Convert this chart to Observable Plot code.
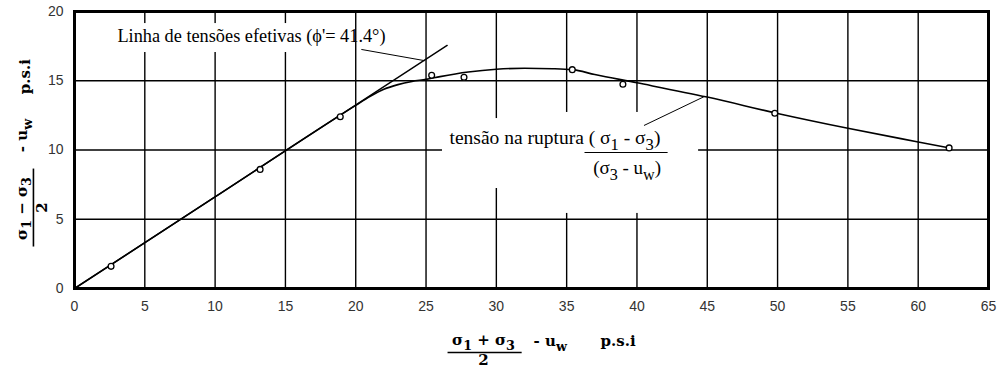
<!DOCTYPE html>
<html>
<head>
<meta charset="utf-8">
<script src="https://cdn.jsdelivr.net/npm/d3@7"></script>
<script src="https://cdn.jsdelivr.net/npm/@observablehq/plot@0.6"></script>
<style>
  html, body { margin: 0; padding: 0; background: #fff; }
</style>
</head>
<body>
<div id="chart"></div>
<script>
// Axis ticks (p.s.i)
const xTicks = [0, 5, 10, 15, 20, 25, 30, 35, 40, 45, 50, 55, 60, 65];
const yTicks = [0, 5, 10, 15, 20];

// Triaxial test results: p' = (σ1+σ3)/2 - uw, q = (σ1-σ3)/2
const testP = [2.6, 13.2, 18.9, 25.4, 27.7, 35.4, 39.0, 49.8, 62.2];
const testQ = [1.6, 8.6, 12.4, 15.4, 15.25, 15.8, 14.75, 12.65, 10.15];

// Effective stress envelope (φ' = 41.4°)
const envelopeP = [0, 26.5];
const envelopeQ = [0, 17.55];

// Stress path at failure
const ruptureP = [0, 10, 20, 21, 22, 23, 24, 25, 26, 28, 30, 32, 34, 35.4, 37, 40, 45, 50, 55, 60, 62.2];
const ruptureQ = [0, 6.61, 13.22, 13.85, 14.38, 14.72, 14.95, 15.1, 15.3, 15.63, 15.83, 15.9, 15.87, 15.8, 15.45, 14.85, 13.82, 12.64, 11.57, 10.58, 10.15];

const tests = testP.map((p, i) => ({p, q: testQ[i]}));
const envelope = envelopeP.map((p, i) => ({p, q: envelopeQ[i]}));
const rupture = ruptureP.map((p, i) => ({p, q: ruptureQ[i]}));

const serif = "'Liberation Serif', 'Times New Roman', serif";
const wideSerif = "'DejaVu Serif', serif";
const sans = "'Liberation Sans', Arial, sans-serif";

// Blank panels kept free of grid lines behind the annotations
const blanks = [
  {x1: 1.85, x2: 19.5, y1: 17.04, y2: 19.13},
  {x1: 26.17, x2: 44.38, y1: 7.22, y2: 12.27},
  {x1: 33.14, x2: 44.38, y1: 5.42, y2: 12.71}
];

// Leader lines from the annotations to the curves
const leaders = [
  {x1: 20.4, y1: 17.26, x2: 24.9, y2: 16.45},
  {x1: 40.5, y1: 11.77, x2: 44.75, y2: 13.84}
];

// Annotations
const envelopeNote = [{x: 3.05, y: 18.2, text: "Linha de tensões efetivas (ϕ'= 41.4°)"}];
const ruptureNote = [{x: 26.67, y: 10.9, text: "tensão na ruptura ( σ_{1} - σ_{3})"}];
const ruptureDenominator = [{x: 39.3, y: 8.74, text: "(σ_{3} - u_{w})"}];

// Horizontal axis title pieces
const xTitleMiddle = [
  {x: 29.09, y: -3.75, text: "σ_{1} + σ_{3}"},
  {x: 29.09, y: -5.15, text: "2"}
];
const xTitleStart = [
  {x: 32.65, y: -3.83, text: "- u_{w}"},
  {x: 37.41, y: -3.83, text: "p.s.i"}
];

// Vertical axis title pieces
const yTitle = [
  {x: -3.75, y: 5.78, text: "σ_{1} − σ_{3}"},
  {x: -2.3, y: 5.85, text: "2"},
  {x: -3.7, y: 11.05, text: "- u_{w}"},
  {x: -3.5, y: 15.3, text: "p.s.i"}
];

// Fraction bars
const bars = [
  {x1: 36.27, x2: 42.18, y1: 9.82, y2: 9.82, w: 1.1},
  {x1: 26.53, x2: 31.8, y1: -4.62, y2: -4.62, w: 1.6},
  {x1: -2.92, x2: -2.92, y1: 3.03, y2: 8.66, w: 1.6}
];

const plain = {x: "x", y: "y", text: "text", fontFamily: serif, fill: "#000"};
const bold = {x: "x", y: "y", text: "text", fontFamily: wideSerif, fontWeight: "bold", fontSize: 15, fill: "#000"};

const svg = Plot.plot({
  width: 1008,
  height: 369,
  marginLeft: 74,
  marginRight: 20,
  marginTop: 11,
  marginBottom: 81,
  style: {background: "#fff", fontFamily: serif, color: "#000"},
  x: {domain: [0, 65]},
  y: {domain: [0, 20]},
  marks: [
    Plot.gridX(xTicks, {stroke: "#000", strokeOpacity: 1, strokeWidth: 1.4}),
    Plot.gridY(yTicks, {stroke: "#000", strokeOpacity: 1, strokeWidth: 1.4}),
    Plot.rect(blanks, {x1: "x1", x2: "x2", y1: "y1", y2: "y2", fill: "#fff"}),
    Plot.frame({stroke: "#000", strokeWidth: 3}),
    Plot.axisX(xTicks, {tickSize: 0, tickPadding: 13, label: null, fontFamily: sans, fontSize: 14, fill: "#333"}),
    Plot.axisY(yTicks, {tickSize: 0, tickPadding: 11, label: null, fontFamily: sans, fontSize: 14, fill: "#333"}),
    Plot.line(envelope, {x: "p", y: "q", stroke: "#000", strokeWidth: 1.4}),
    Plot.line(rupture, {x: "p", y: "q", stroke: "#000", strokeWidth: 1.6, curve: "monotone-x"}),
    Plot.link(leaders, {x1: "x1", y1: "y1", x2: "x2", y2: "y2", stroke: "#000", strokeWidth: 1}),
    Plot.dot(tests, {x: "p", y: "q", r: 2.9, stroke: "#000", strokeWidth: 1.3, fill: "#fff"}),
    Plot.text(envelopeNote, {...plain, fontSize: 18.3, textAnchor: "start"}),
    Plot.text(ruptureNote, {...plain, fontSize: 19.5, textAnchor: "start"}),
    Plot.text(ruptureDenominator, {...plain, fontSize: 19, textAnchor: "middle"}),
    Plot.text(xTitleMiddle, {...bold, textAnchor: "middle"}),
    Plot.text(xTitleStart, {...bold, textAnchor: "start"}),
    Plot.text(yTitle, {...bold, rotate: -90}),
    Plot.link(bars, {x1: "x1", y1: "y1", x2: "x2", y2: "y2", stroke: "#000", strokeWidth: d => d.w})
  ]
});

document.getElementById("chart").append(svg);

// Turn "_{…}" markup in labels into lowered subscript tspans
function subscripts(root) {
  const ns = "http://www.w3.org/2000/svg";
  for (const t of root.querySelectorAll("text")) {
    const s = t.textContent;
    if (!s.includes("_{")) continue;
    const size = parseFloat(getComputedStyle(t).fontSize) || 16;
    const shift = size * 0.32;
    t.textContent = "";
    let offset = 0;
    for (const part of s.split(/(_\{[^}]*\})/)) {
      if (!part) continue;
      const sub = part.startsWith("_{");
      const span = document.createElementNS(ns, "tspan");
      const target = sub ? shift : 0;
      if (target !== offset) span.setAttribute("dy", target - offset);
      offset = target;
      if (sub) span.setAttribute("font-size", "0.85em");
      span.textContent = sub ? part.slice(2, -1) : part;
      t.append(span);
    }
  }
}
subscripts(svg);
</script>
</body>
</html>
